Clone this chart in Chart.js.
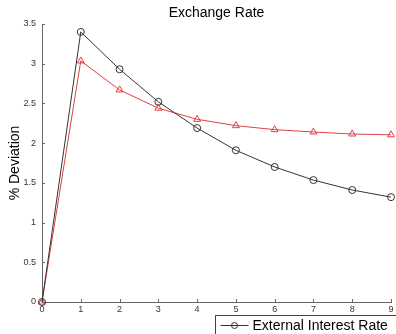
<!DOCTYPE html>
<html>
<head>
<meta charset="utf-8">
<script src="https://cdn.jsdelivr.net/npm/chart.js@4/dist/chart.umd.min.js"></script>
<style>
  html, body { margin: 0; padding: 0; background: #fff; }
  #wrap { width: 396px; height: 334px; position: relative; }
</style>
</head>
<body>
<div id="wrap"><canvas id="c"></canvas></div>
<script>
// Quarters after the shock
const periods = [0, 1, 2, 3, 4, 5, 6, 7, 8, 9];
// Exchange-rate response (% deviation from steady state)
const externalRate = [0, 3.40, 2.93, 2.52, 2.19, 1.91, 1.70, 1.535, 1.41, 1.32];
const domesticRate = [0, 3.035, 2.67, 2.44, 2.30, 2.22, 2.17, 2.14, 2.115, 2.105];
const seriesNames = ['External Interest Rate', 'Domestic Interest Rate'];
const yTicks = [0, 0.5, 1, 1.5, 2, 2.5, 3, 3.5];

const toPoints = vals => periods.map((p, i) => ({ x: p, y: vals[i] }));

// Short inward-pointing tick marks on both axes
const innerTicks = {
  id: 'innerTicks',
  beforeDatasetsDraw(chart) {
    const { ctx, chartArea, scales } = chart;
    ctx.save();
    ctx.strokeStyle = '#666';
    ctx.lineWidth = 1;
    ctx.beginPath();
    scales.x.ticks.forEach(t => {
      const px = Math.round(scales.x.getPixelForValue(t.value)) + 0.5;
      ctx.moveTo(px, chartArea.bottom);
      ctx.lineTo(px, chartArea.bottom - 3);
    });
    scales.y.ticks.forEach(t => {
      const py = Math.round(scales.y.getPixelForValue(t.value)) + 0.5;
      ctx.moveTo(chartArea.left, py);
      ctx.lineTo(chartArea.left + 3, py);
    });
    ctx.stroke();
    ctx.restore();
  }
};

// Boxed legend anchored below the plot, one row per series
const boxLegend = {
  id: 'boxLegend',
  afterDraw(chart) {
    const { ctx } = chart;
    const x0 = 215.5, y0 = 315.5, rowH = 20;
    ctx.save();
    ctx.fillStyle = '#fff';
    ctx.strokeStyle = '#444';
    ctx.lineWidth = 1;
    ctx.fillRect(x0, y0, 200, rowH * chart.data.datasets.length + 6);
    ctx.strokeRect(x0, y0, 200, rowH * chart.data.datasets.length + 6);
    chart.data.datasets.forEach((ds, i) => {
      const cy = y0 + 10 + i * rowH;
      ctx.strokeStyle = ds.borderColor;
      ctx.beginPath();
      ctx.moveTo(x0 + 5, cy);
      ctx.lineTo(x0 + 33, cy);
      ctx.stroke();
      if (ds.pointStyle === 'circle') {
        ctx.beginPath();
        ctx.arc(x0 + 19, cy, 3, 0, Math.PI * 2);
        ctx.stroke();
      } else {
        ctx.beginPath();
        ctx.moveTo(x0 + 19, cy - 3.5);
        ctx.lineTo(x0 + 22.5, cy + 2.5);
        ctx.lineTo(x0 + 15.5, cy + 2.5);
        ctx.closePath();
        ctx.stroke();
      }
      ctx.fillStyle = '#000';
      ctx.font = '14px "Liberation Sans", Arial, sans-serif';
      ctx.textBaseline = 'middle';
      ctx.textAlign = 'left';
      ctx.fillText(ds.label, x0 + 37, cy + 0.5);
    });
    ctx.restore();
  }
};

new Chart(document.getElementById('c'), {
  type: 'line',
  data: {
    datasets: [
      {
        label: seriesNames[0],
        data: toPoints(externalRate),
        borderColor: '#333',
        borderWidth: 1,
        pointStyle: 'circle',
        pointRadius: 3.5,
        pointBorderWidth: 1,
        pointBackgroundColor: 'rgba(0,0,0,0)',
        pointBorderColor: '#333',
        tension: 0,
        clip: false
      },
      {
        label: seriesNames[1],
        data: toPoints(domesticRate),
        borderColor: '#e04040',
        borderWidth: 1,
        pointStyle: 'triangle',
        pointRadius: 4,
        pointBorderWidth: 1,
        pointBackgroundColor: 'rgba(0,0,0,0)',
        pointBorderColor: '#e04040',
        tension: 0,
        clip: false
      }
    ]
  },
  options: {
    responsive: true,
    maintainAspectRatio: false,
    devicePixelRatio: 1,
    animation: false,
    layout: { padding: { left: 0, right: 4, top: 0, bottom: 0 } },
    plugins: {
      legend: { display: false },
      tooltip: { enabled: false },
      title: {
        display: true,
        text: 'Exchange Rate',
        fullSize: false,
        color: '#000',
        font: { family: '"Liberation Sans", Arial, sans-serif', size: 14, weight: 'normal', lineHeight: 1.2 },
        padding: { top: 5, bottom: 2.2 }
      }
    },
    scales: {
      x: {
        type: 'linear',
        min: 0,
        max: 9,
        ticks: {
          stepSize: 1,
          color: '#333',
          font: { family: '"Liberation Sans", Arial, sans-serif', size: 9 },
          padding: 2,
          maxRotation: 0
        },
        grid: { drawOnChartArea: false, drawTicks: false },
        border: { color: '#666', width: 1 },
        afterFit(s) { s.height = 32; }
      },
      y: {
        type: 'linear',
        min: 0,
        max: 3.5,
        afterBuildTicks(s) { s.ticks = yTicks.map(v => ({ value: v })); },
        ticks: {
          color: '#333',
          font: { family: '"Liberation Sans", Arial, sans-serif', size: 9 },
          padding: 6,
          callback: v => String(v)
        },
        title: {
          display: true,
          text: '% Deviation',
          color: '#000',
          font: { family: '"Liberation Sans", Arial, sans-serif', size: 14 },
          padding: { top: 7, bottom: 0 }
        },
        grid: { drawOnChartArea: false, drawTicks: false },
        border: { color: '#666', width: 1 },
        afterFit(s) { s.width = 42; }
      }
    }
  },
  plugins: [innerTicks, boxLegend]
});
</script>
</body>
</html>
